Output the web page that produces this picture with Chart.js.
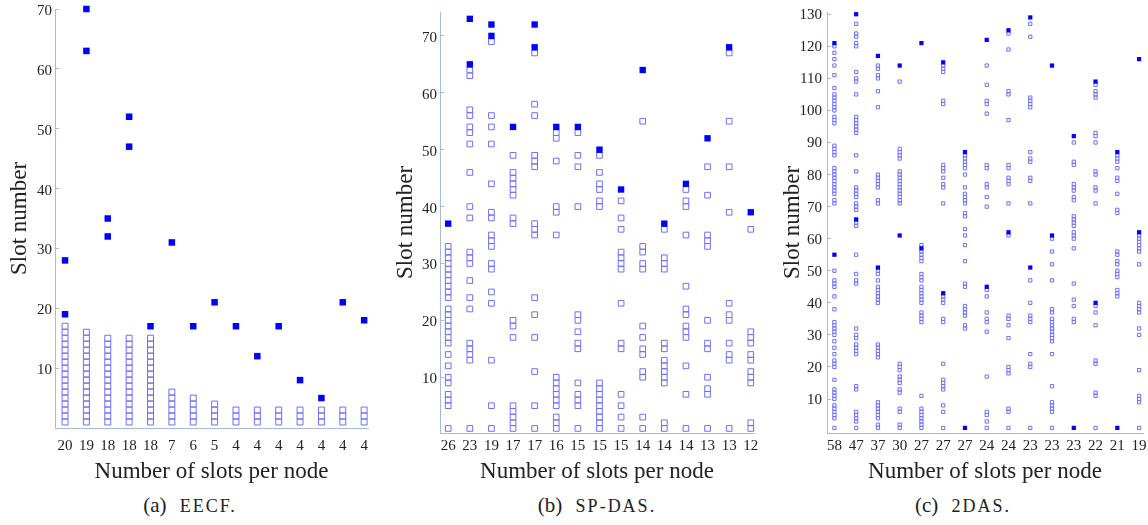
<!DOCTYPE html>
<html>
<head>
<meta charset="utf-8">
<script src="https://cdn.jsdelivr.net/npm/chart.js@4.4.1/dist/chart.umd.min.js"></script>
<style>
  body { margin: 0; background: #fff; width: 1148px; height: 525px; position: relative; overflow: hidden; font-family: "Liberation Serif", serif; }
  .panel { position: absolute; top: 0; }
  .caption { position: absolute; top: 493px; line-height: 24px; font-size: 21px; color: #222; transform: translateX(-50%); white-space: nowrap; word-spacing: 8px; }
  .sc { font-size: 18px; letter-spacing: 2px; }
</style>
</head>
<body>
<div class="panel" style="left:0px"><canvas id="eecf" width="380" height="490"></canvas></div>
<div class="panel" style="left:385px"><canvas id="spdas" width="380" height="490"></canvas></div>
<div class="panel" style="left:770px"><canvas id="das" width="378" height="490"></canvas></div>
<div class="caption" style="left:190px">(a) <span class="sc">EECF.</span></div>
<div class="caption" style="left:597px">(b) <span class="sc">SP-DAS.</span></div>
<div class="caption" style="left:963px">(c) <span class="sc">2DAS.</span></div>
<script>
// (a) EECF: slots per node (columns), open = allocated slots, filled = highlighted slots
const eecfLabels = ["20", "19", "18", "18", "18", "7", "6", "5", "4", "4", "4", "4", "4", "4", "4"];
const eecfSlots = [
  [1, 2, 3, 4, 5, 6, 7, 8, 9, 10, 11, 12, 13, 14, 15, 16, 17],
  [1, 2, 3, 4, 5, 6, 7, 8, 9, 10, 11, 12, 13, 14, 15, 16],
  [1, 2, 3, 4, 5, 6, 7, 8, 9, 10, 11, 12, 13, 14, 15],
  [1, 2, 3, 4, 5, 6, 7, 8, 9, 10, 11, 12, 13, 14, 15],
  [1, 2, 3, 4, 5, 6, 7, 8, 9, 10, 11, 12, 13, 14, 15],
  [1, 2, 3, 4, 5, 6],
  [1, 2, 3, 4, 5],
  [1, 2, 3, 4],
  [1, 2, 3], [1, 2, 3], [1, 2, 3], [1, 2, 3], [1, 2, 3], [1, 2, 3], [1, 2, 3]
];
const eecfFilled = [[19, 28], [63, 70], [32, 35], [47, 52], [17], [31], [17], [21], [17], [12], [17], [8], [5], [21], [18]];

// (b) SP-DAS
const spdasLabels = ["26", "23", "19", "17", "17", "16", "15", "15", "15", "14", "14", "14", "13", "13", "12"];
const spdasSlots = [
  [1, 5, 6, 7, 9, 10, 12, 14, 16, 17, 18, 19, 20, 21, 22, 24, 25, 26, 27, 28, 29, 30, 31, 32, 33],
  [1, 13, 14, 15, 16, 22, 24, 27, 30, 31, 32, 38, 40, 46, 51, 53, 54, 56, 57, 63, 64],
  [1, 5, 13, 23, 25, 29, 30, 33, 34, 35, 38, 39, 44, 51, 54, 56, 69],
  [1, 2, 3, 4, 5, 17, 19, 20, 37, 38, 42, 43, 44, 45, 46, 49],
  [1, 5, 11, 17, 21, 24, 35, 36, 37, 47, 48, 49, 56, 58, 67],
  [1, 2, 3, 5, 6, 7, 8, 9, 10, 35, 39, 40, 48, 52, 53],
  [1, 5, 6, 7, 9, 15, 16, 18, 20, 21, 40, 47, 49, 53],
  [1, 2, 3, 4, 5, 6, 7, 8, 9, 40, 41, 43, 44, 46, 49],
  [1, 3, 5, 7, 15, 16, 23, 29, 30, 31, 32, 36, 38, 41],
  [1, 3, 10, 11, 14, 15, 17, 19, 29, 30, 32, 33, 55],
  [1, 2, 9, 10, 11, 12, 13, 15, 16, 29, 30, 31, 36],
  [1, 7, 12, 17, 18, 19, 21, 22, 26, 35, 40, 41, 43],
  [1, 7, 8, 10, 15, 16, 20, 33, 34, 35, 42, 47],
  [1, 13, 14, 16, 20, 21, 23, 39, 47, 55, 67],
  [1, 2, 9, 10, 11, 13, 14, 16, 17, 18, 36]
];
const spdasFilled = [[37], [65, 73], [70, 72], [54], [68, 72], [54], [54], [50], [43], [64], [37], [44], [52], [68], [39]];

// (c) 2DAS
const dasLabels = ["58", "47", "37", "30", "27", "27", "27", "24", "24", "23", "23", "23", "22", "21", "19"];
const dasSlots = [
  [1, 4, 5, 6, 7, 8, 10, 11, 12, 13, 16, 20, 21, 22, 24, 26, 28, 30, 31, 32, 33, 34, 38, 42, 45, 46, 47, 50,
   71, 72, 74, 75, 76, 77, 78, 79, 80, 81, 82, 86, 87, 88, 89, 96, 97, 98, 100, 101, 102, 103, 104, 105, 107, 111, 114, 116, 118, 120],
  [1, 3, 4, 5, 6, 13, 14, 24, 25, 26, 27, 29, 30, 32, 46, 47, 49, 55, 64, 65, 69, 70, 71, 73, 74, 75, 76, 81, 86,
   93, 94, 95, 96, 97, 98, 105, 109, 110, 112, 120, 121, 123, 124, 127],
  [1, 2, 4, 5, 6, 7, 8, 9, 23, 24, 25, 26, 27, 40, 41, 42, 43, 44, 45, 47, 49, 50, 71, 72, 76, 77, 78, 79, 80, 101, 106, 110, 111, 113, 114],
  [1, 2, 6, 7, 12, 13, 15, 16, 17, 19, 20, 21, 71, 72, 73, 74, 75, 76, 77, 78, 79, 80, 81, 85, 86, 87, 88, 109],
  [1, 2, 3, 4, 5, 6, 7, 11, 34, 35, 36, 37, 40, 41, 42, 43, 44, 45, 47, 48, 49, 53, 54, 55, 56, 58],
  [1, 6, 8, 13, 14, 15, 16, 21, 34, 35, 40, 41, 42, 71, 76, 77, 79, 81, 82, 83, 102, 103, 112, 113, 114],
  [32, 33, 36, 37, 38, 39, 45, 46, 53, 58, 61, 63, 67, 68, 71, 72, 73, 74, 76, 80, 82, 83, 84, 85, 86],
  [1, 3, 5, 6, 17, 31, 34, 35, 37, 42, 44, 70, 73, 76, 77, 82, 83, 99, 102, 103, 108, 114],
  [1, 6, 7, 18, 19, 20, 29, 33, 35, 36, 61, 71, 77, 78, 79, 82, 83, 97, 105, 106, 119, 124],
  [1, 20, 21, 24, 34, 35, 36, 40, 47, 71, 78, 79, 84, 85, 87, 101, 102, 103, 104, 123, 127],
  [1, 6, 7, 8, 9, 14, 24, 28, 29, 30, 31, 32, 33, 34, 35, 37, 38, 47, 52, 56, 60],
  [34, 35, 39, 41, 46, 57, 60, 61, 62, 64, 65, 66, 67, 72, 73, 75, 76, 77, 83, 84, 90],
  [1, 11, 12, 21, 22, 33, 37, 39, 71, 75, 76, 80, 81, 90, 92, 93, 104, 105, 106, 108],
  [42, 43, 44, 48, 49, 50, 52, 53, 55, 56, 68, 69, 74, 78, 79, 82, 84, 85, 86],
  [1, 9, 10, 11, 19, 30, 32, 37, 38, 39, 40, 52, 56, 57, 58, 59, 60, 61]
];
const dasFilled = [[55, 121], [66, 130], [51, 117], [61, 114], [57, 121], [43, 115], [1, 87], [45, 122], [62, 125], [51, 129], [61, 114], [1, 92], [40, 109], [1, 87], [62, 116]];

const axisColor = "#a3bcdc";
const openColor = "#6e6eff";
const fillColor = "#0000ff";
const textColor = "#222";
const serif = "'Liberation Serif', serif";

const toPoints = (cols) => cols.flatMap((slots, i) => slots.map((s) => ({ x: i, y: s })));

const createChart = (id, labels, slots, filled, g) => {
    return new Chart(document.getElementById(id), {
        type: "scatter",
        data: {
            datasets: [
                {
                    data: toPoints(filled),
                    pointStyle: "rect",
                    pointRadius: g.filledRadius,
                    backgroundColor: fillColor,
                    borderColor: fillColor,
                    pointBorderWidth: 0,
                    clip: false,
                },
                {
                    data: toPoints(slots),
                    pointStyle: "rect",
                    pointRadius: g.openRadius,
                    backgroundColor: "rgba(255,255,255,0)",
                    borderColor: openColor,
                    pointBorderWidth: 1,
                    clip: false,
                },
            ],
        },
        options: {
            responsive: false,
            animation: false,
            events: [],
            layout: { padding: { top: g.top, right: g.right, left: 0, bottom: 0 } },
            plugins: { legend: { display: false }, tooltip: { enabled: false } },
            scales: {
                x: {
                    type: "linear",
                    min: g.xMin,
                    max: g.xMax,
                    // fixed box so the plot area sits at the same place in every panel
                    afterFit: (scale) => {
                        scale.height = g.xHeight;
                        scale.paddingLeft = 0;
                        scale.paddingRight = 0;
                    },
                    border: { color: axisColor, width: 1 },
                    grid: { display: false, drawTicks: false },
                    ticks: {
                        stepSize: 1,
                        includeBounds: false,
                        autoSkip: false,
                        maxRotation: 0,
                        padding: g.xPad,
                        color: textColor,
                        font: { family: serif, size: 15 },
                        callback: (v) => labels[v],
                    },
                    title: {
                        display: true,
                        text: "Number of slots per node",
                        color: textColor,
                        font: { family: serif, size: 23 },
                        padding: { top: 0, bottom: 4 },
                    },
                },
                y: {
                    min: g.yMin,
                    max: g.yMax,
                    afterFit: (scale) => {
                        scale.width = g.yWidth;
                        scale.paddingTop = 0;
                        scale.paddingBottom = 0;
                    },
                    border: { color: axisColor, width: 1 },
                    grid: {
                        drawOnChartArea: false,
                        tickLength: -4,
                        color: (ctx) => (ctx.tick && ctx.tick.value === 0 ? "rgba(0,0,0,0)" : axisColor),
                    },
                    ticks: {
                        stepSize: 10,
                        includeBounds: false,
                        padding: g.yPad,
                        labelOffset: g.yLabelOffset,
                        color: textColor,
                        font: { family: serif, size: 15 },
                        callback: (v) => (v === 0 ? "" : v),
                    },
                    title: {
                        display: true,
                        text: "Slot number",
                        color: textColor,
                        font: { family: serif, size: 23 },
                        padding: { top: g.yTitlePad, bottom: 0 },
                    },
                },
            },
        },
    });
};

createChart("eecf", eecfLabels, eecfSlots, eecfFilled, {
    top: 9, right: 12, yWidth: 55, xHeight: 62,
    xMin: -0.47, xMax: 14.18, yMin: 0, yMax: 70,
    xPad: 9, yPad: 7, yTitlePad: 6, yLabelOffset: 2,
    openRadius: 4.2, filledRadius: 4.6,
});

createChart("spdas", spdasLabels, spdasSlots, spdasFilled, {
    top: 12, right: 11, yWidth: 55, xHeight: 57,
    xMin: -0.38, xMax: 14.15, yMin: 0.2, yMax: 74.2,
    xPad: 4, yPad: 7, yTitlePad: 7, yLabelOffset: 2,
    openRadius: 4.0, filledRadius: 4.5,
});

createChart("das", dasLabels, dasSlots, dasFilled, {
    top: 12, right: 5, yWidth: 57, xHeight: 57,
    xMin: -0.34, xMax: 14.18, yMin: -0.6, yMax: 130.7,
    xPad: 4, yPad: 9, yTitlePad: 9, yLabelOffset: 1,
    openRadius: 2.3, filledRadius: 3.0,
});
</script>
</body>
</html>
